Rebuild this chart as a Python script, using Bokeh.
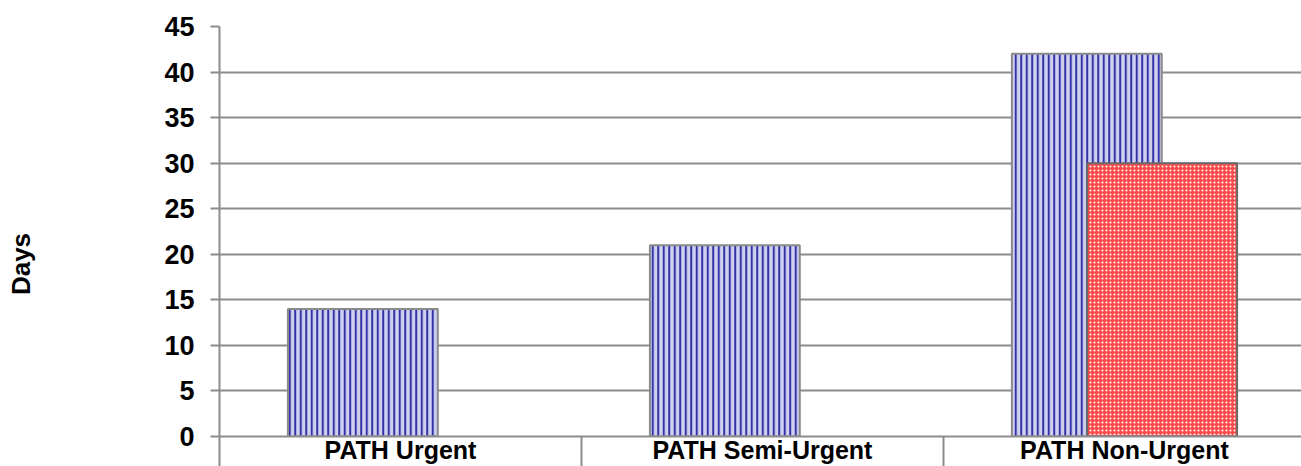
from bokeh.plotting import figure
from bokeh.models import ColumnDataSource, Range1d, FixedTicker
from bokeh.embed import file_html
from bokeh.resources import INLINE

# ---- data ----
categories = ["PATH Urgent", "PATH Semi-Urgent", "PATH Non-Urgent"]
series_a = [14, 21, 42]        # blue striped bars
series_b = [None, None, 30]    # red speckled bars
y_ticks = [0, 5, 10, 15, 20, 25, 30, 35, 40, 45]
y_label = "Days"

# ---- layout ----
bar_w = 0.414
offset = 0.104
FONT = "Liberation Sans"
GRID = "#8c8c8c"

p = figure(width=1301, height=466, output_backend="svg", toolbar_location=None,
           x_range=Range1d(0, 2.989), y_range=Range1d(0, 45),
           min_border_left=219, min_border_top=26, min_border_right=0,
           min_border_bottom=0)
p.outline_line_color = None
p.background_fill_color = "white"
p.border_fill_color = "white"

idx = list(range(len(categories)))
src_a = ColumnDataSource(dict(x=[i + 0.5 - offset for i in idx], top=series_a))
bx = [i + 0.5 + offset for i, v in zip(idx, series_b) if v is not None]
bt = [v for v in series_b if v is not None]
src_b = ColumnDataSource(dict(x=bx, top=bt))

p.vbar(x="x", top="top", bottom=0, width=bar_w, source=src_a,
       fill_color="#cfd0f0", line_color="#8a8a8a", line_width=2,
       hatch_pattern="|", hatch_color="#3232a4", hatch_scale=5.5, hatch_weight=2)
p.vbar(x="x", top="top", bottom=0, width=bar_w, source=src_b,
       fill_color="#ff4a4a", line_color="#6a6a6a", line_width=2,
       hatch_pattern=".", hatch_color="white", hatch_scale=4, hatch_weight=1.5)

# y axis
p.yaxis.ticker = FixedTicker(ticks=y_ticks)
p.yaxis.axis_line_color = GRID
p.yaxis.axis_line_width = 2
p.yaxis.major_tick_line_color = GRID
p.yaxis.major_tick_line_width = 2
p.yaxis.major_tick_in = 0
p.yaxis.major_tick_out = 9
p.yaxis.minor_tick_line_color = None
p.yaxis.major_label_text_font = FONT
p.yaxis.major_label_text_font_style = "bold"
p.yaxis.major_label_text_font_size = "27px"
p.yaxis.major_label_text_color = "black"
p.yaxis.major_label_standoff = 16
# trailing no-break spaces push the visible word below the frame centre
p.yaxis.axis_label = y_label + "\u00a0" * 9
p.yaxis.axis_label_text_font = FONT
p.yaxis.axis_label_text_font_style = "bold"
p.yaxis.axis_label_text_font_size = "26px"
p.yaxis.axis_label_text_color = "black"
p.yaxis.axis_label_standoff = 125

# x axis
p.xaxis.ticker = FixedTicker(ticks=[i + 0.5 for i in idx],
                             minor_ticks=[0, 1, 2, 3])
p.xaxis.major_label_overrides = {i + 0.5: c for i, c in zip(idx, categories)}
p.xaxis.axis_line_color = GRID
p.xaxis.axis_line_width = 2
p.xaxis.major_tick_line_color = None
p.xaxis.major_tick_out = 0
p.xaxis.major_tick_in = 0
p.xaxis.minor_tick_line_color = GRID
p.xaxis.minor_tick_line_width = 2
p.xaxis.minor_tick_in = 0
p.xaxis.minor_tick_out = 30
p.xaxis.major_label_text_font = FONT
p.xaxis.major_label_text_font_style = "bold"
p.xaxis.major_label_text_font_size = "25px"
p.xaxis.major_label_text_color = "black"
p.xaxis.major_label_standoff = -31

# grid
p.xgrid.grid_line_color = None
p.ygrid.grid_line_color = GRID
p.ygrid.grid_line_width = 2

open("out.html", "w").write(file_html(p, INLINE))
